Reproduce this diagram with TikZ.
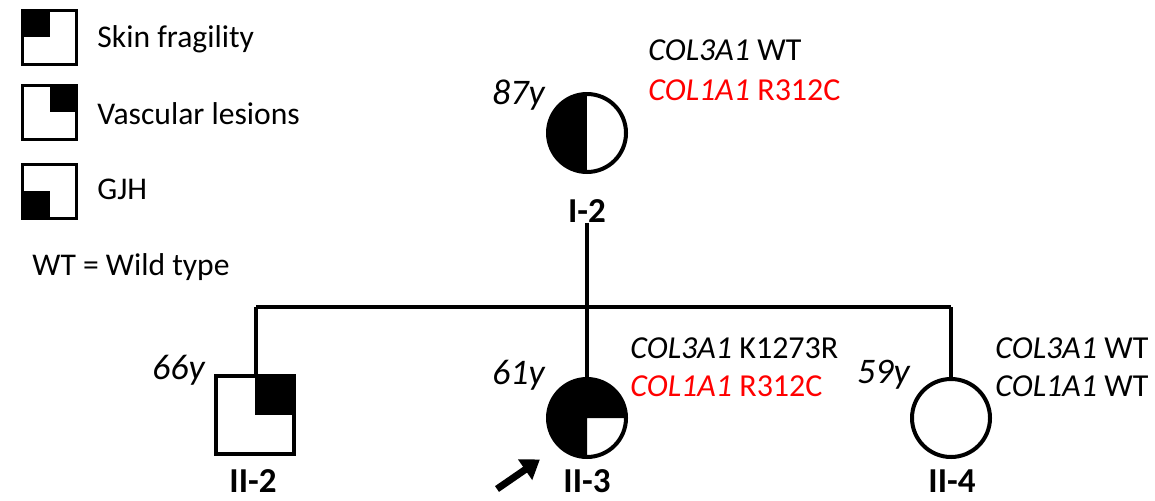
\documentclass[tikz,border=0pt]{standalone}
\usepackage{fontspec}
\setmainfont{Carlito}
\usetikzlibrary{arrows.meta}

\begin{document}
\begin{tikzpicture}[x=0.5pt, y=0.5pt,
    sym/.style={draw, line width=2pt, inner sep=0pt, minimum size=39pt},
    fem/.style={sym, circle},
    mal/.style={sym, rectangle},
    keybox/.style={draw, line width=1.5pt, inner sep=0pt, minimum size=27pt},
    part/.style={path picture={\fill[black] #1;}},
    idlab/.style={inner sep=0pt, font=\fontsize{17.5}{20}\selectfont\bfseries},
    age/.style={anchor=east, inner sep=0pt, font=\fontsize{18}{20}\selectfont\itshape},
    gene/.style={anchor=west, inner sep=0pt, font=\fontsize{16}{19}\selectfont},
    lgd/.style={anchor=west, inner sep=0pt, font=\fontsize{15.8}{18}\selectfont},
    link/.style={line width=2pt},
    proband/.style={line width=3.5pt, shorten >=11pt, -{Triangle[length=9pt, width=12pt]}}
  ]
  \useasboundingbox (0,0) rectangle (1155,500);

  % legend
  \node[keybox, part={(path picture bounding box.west) rectangle (path picture bounding box.north)}] (k1) at (49.5,463) {};
  \node[keybox, part={(path picture bounding box.center) rectangle (path picture bounding box.north east)}] (k2) at (49.5,388) {};
  \node[keybox, part={(path picture bounding box.south west) rectangle (path picture bounding box.center)}] (k3) at (49.5,309) {};
  \node[lgd] (t1) at (97,461) {Skin fragility};
  \node[lgd] (t2) at (97,386) {Vascular lesions};
  \node[lgd] (t3) at (97,311) {GJH};
  \node[lgd] (wt) at (32,233) {WT = Wild type};

  % generation I
  \node[fem, part={(path picture bounding box.south west) rectangle (path picture bounding box.north)}] (i2) at (587,367) {};
  \node[idlab] (i2lab) at (587,289) {I-2};
  \node[age] (i2age) at (545,405) {87y};
  \node[gene] (i2g1) at (648,450) {\textit{COL3A1} WT};
  \node[gene, text=red] (i2g2) at (648,410) {\textit{COL1A1} R312C};

  % generation II
  \node[mal, part={(path picture bounding box.center) rectangle (path picture bounding box.north east)}] (ii2) at (255,85) {};
  \node[fem, part={(path picture bounding box.south west) rectangle (path picture bounding box.north) (path picture bounding box.center) rectangle (path picture bounding box.north east)}] (ii3) at (587,82) {};
  \node[fem] (ii4) at (951,82) {};
  \node[idlab] (ii2lab) at (253,19) {II-2};
  \node[idlab] (ii3lab) at (587,19) {II-3};
  \node[idlab] (ii4lab) at (952,19) {II-4};
  \node[age] (ii2age) at (205,130) {66y};
  \node[age] (ii3age) at (545,125) {61y};
  \node[age] (ii4age) at (910,125) {59y};
  \node[gene] (ii3g1) at (630,152) {\textit{COL3A1} K1273R};
  \node[gene, text=red] (ii3g2) at (630,114) {\textit{COL1A1} R312C};
  \node[gene] (ii4g1) at (995,152) {\textit{COL3A1} WT};
  \node[gene] (ii4g2) at (995,114) {\textit{COL1A1} WT};

  % lines of descent
  \coordinate (barl) at (256,193);
  \coordinate (barr) at (951,193);
  \draw[link] (barl) -- (barr);
  \draw[link] (i2lab.south) -- (ii3.north);
  \draw[link] (barl) -- (ii2.north -| barl);
  \draw[link] (barr) -- (ii4.north);

  % proband
  \coordinate (arr) at (497,11);
  \draw[proband] (arr) -- (ii3.225);
\end{tikzpicture}
\end{document}
